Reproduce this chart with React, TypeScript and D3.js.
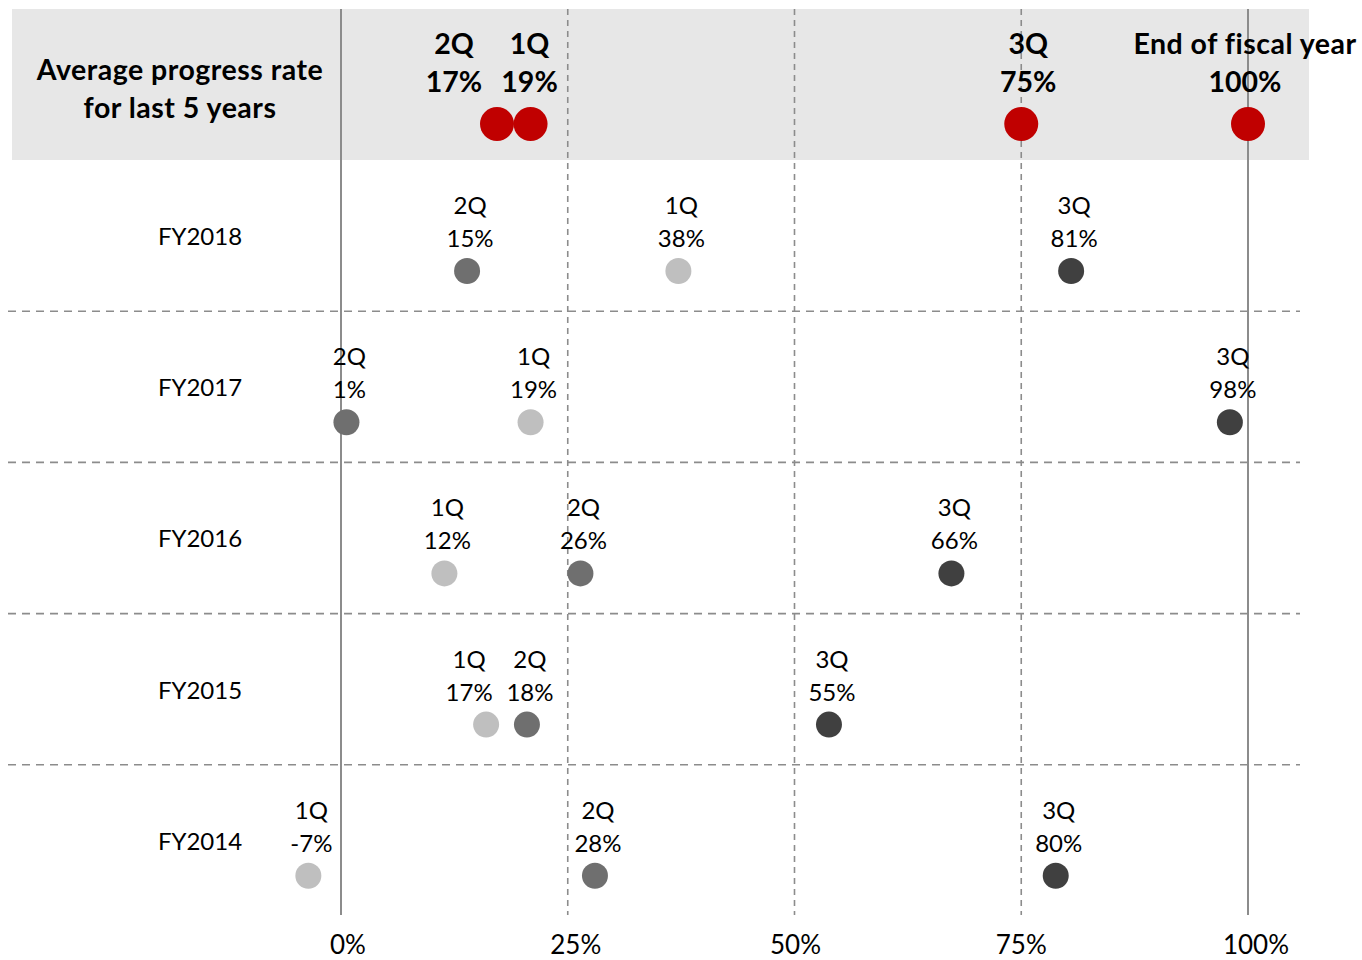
import React from "react";
import * as d3 from "d3";

const years = ["FY2018", "FY2017", "FY2016", "FY2015", "FY2014"];
// dot positions (progress rate, %) per year for 1Q, 2Q, 3Q
const q1Values = [37.2, 20.9, 11.4, 16.0, -3.6];
const q2Values = [13.9, 0.6, 26.4, 20.5, 28.0];
const q3Values = [80.5, 98.0, 67.3, 53.8, 78.8];
// displayed labels
const q1Labels = ["38%", "19%", "12%", "17%", "-7%"];
const q2Labels = ["15%", "1%", "26%", "18%", "28%"];
const q3Labels = ["81%", "98%", "66%", "55%", "80%"];

const avgNames = ["2Q", "1Q", "3Q", "End of fiscal year"];
const avgValues = [17.2, 20.9, 75.0, 100];
const avgLabels = ["17%", "19%", "75%", "100%"];

const tickValues = [0, 25, 50, 75, 100];
const tickLabels = ["0%", "25%", "50%", "75%", "100%"];

const FONT = "Lato, 'Open Sans', sans-serif";
const W = 1362;
const H = 960;

const qColors: Record<string, string> = { "1Q": "#BFBFBF", "2Q": "#6F6F6F", "3Q": "#404040" };
// label nudges (px) where labels are shifted to avoid overlap
const avgLabelDx = [-43, -1, 7, -3];
const tickLabelDx = [7, 8, 1, 0, 8];

export default function App() {
  const x = d3.scaleLinear().domain([0, 100]).range([341, 1248]);
  const y = d3.scaleBand<string>().domain(years).range([160, 916]);

  const rows = years.map((yr, i) => [
    { q: "1Q", v: q1Values[i], l: q1Labels[i] },
    { q: "2Q", v: q2Values[i], l: q2Labels[i] },
    { q: "3Q", v: q3Values[i], l: q3Labels[i] },
  ]);

  const labelDx = (yr: string, q: string) => (yr === "FY2015" && q === "1Q" ? -17 : 3);

  return (
    <svg width={W} height={H} style={{ position: "absolute", left: 0, top: 0 }} fontFamily={FONT}>
      <rect x={0} y={0} width={W} height={H} fill="#ffffff" />
      <rect x={12} y={9} width={1297} height={151} fill="#E7E7E7" />

      {/* row separators */}
      {years.slice(1).map((yr) => (
        <line
          key={yr}
          x1={8}
          x2={1300}
          y1={y(yr)!}
          y2={y(yr)!}
          stroke="#8C8C8C"
          strokeWidth={1.6}
          strokeDasharray="8,6"
        />
      ))}

      {/* vertical grid lines */}
      {tickValues.map((t) => (
        <line
          key={t}
          x1={x(t)}
          x2={x(t)}
          y1={9}
          y2={915}
          stroke="#8C8C8C"
          strokeWidth={t === 0 || t === 100 ? 2 : 1.6}
          strokeDasharray={t === 0 || t === 100 ? undefined : "6,5"}
        />
      ))}

      {/* axis labels */}
      {tickValues.map((t, i) => (
        <text key={t} x={x(t) + tickLabelDx[i]} y={954} fontSize={26} textAnchor="middle" fill="#000">
          {tickLabels[i]}
        </text>
      ))}

      {/* header */}
      <text x={180} y={80} fontSize={28.5} fontWeight="bold" letterSpacing={0.5} textAnchor="middle" fill="#000">
        Average progress rate
      </text>
      <text x={180} y={118} fontSize={28.5} fontWeight="bold" letterSpacing={0.5} textAnchor="middle" fill="#000">
        for last 5 years
      </text>
      {avgValues.map((v, i) => (
        <g key={avgNames[i]}>
          <circle cx={x(v)} cy={124} r={17} fill="#C00000" />
          <text
            x={x(v) + avgLabelDx[i]}
            y={54}
            fontSize={28.5}
            fontWeight="bold"
            letterSpacing={i === 3 ? 0.5 : 0}
            textAnchor="middle"
            fill="#000"
          >
            {avgNames[i]}
          </text>
          <text x={x(v) + avgLabelDx[i]} y={92} fontSize={28.5} fontWeight="bold" textAnchor="middle" fill="#000">
            {avgLabels[i]}
          </text>
        </g>
      ))}

      {/* rows */}
      {years.map((yr, i) => {
        const y0 = y(yr)!;
        return (
          <g key={yr}>
            <text x={200} y={y0 + 85} fontSize={24} textAnchor="middle" fill="#000">
              {yr}
            </text>
            {rows[i].map((d) => (
              <g key={d.q}>
                <circle cx={x(d.v)} cy={y0 + 111} r={13} fill={qColors[d.q]} />
                <text x={x(d.v) + labelDx(yr, d.q)} y={y0 + 54} fontSize={24} textAnchor="middle" fill="#000">
                  {d.q}
                </text>
                <text x={x(d.v) + labelDx(yr, d.q)} y={y0 + 87} fontSize={24} textAnchor="middle" fill="#000">
                  {d.l}
                </text>
              </g>
            ))}
          </g>
        );
      })}
    </svg>
  );
}
